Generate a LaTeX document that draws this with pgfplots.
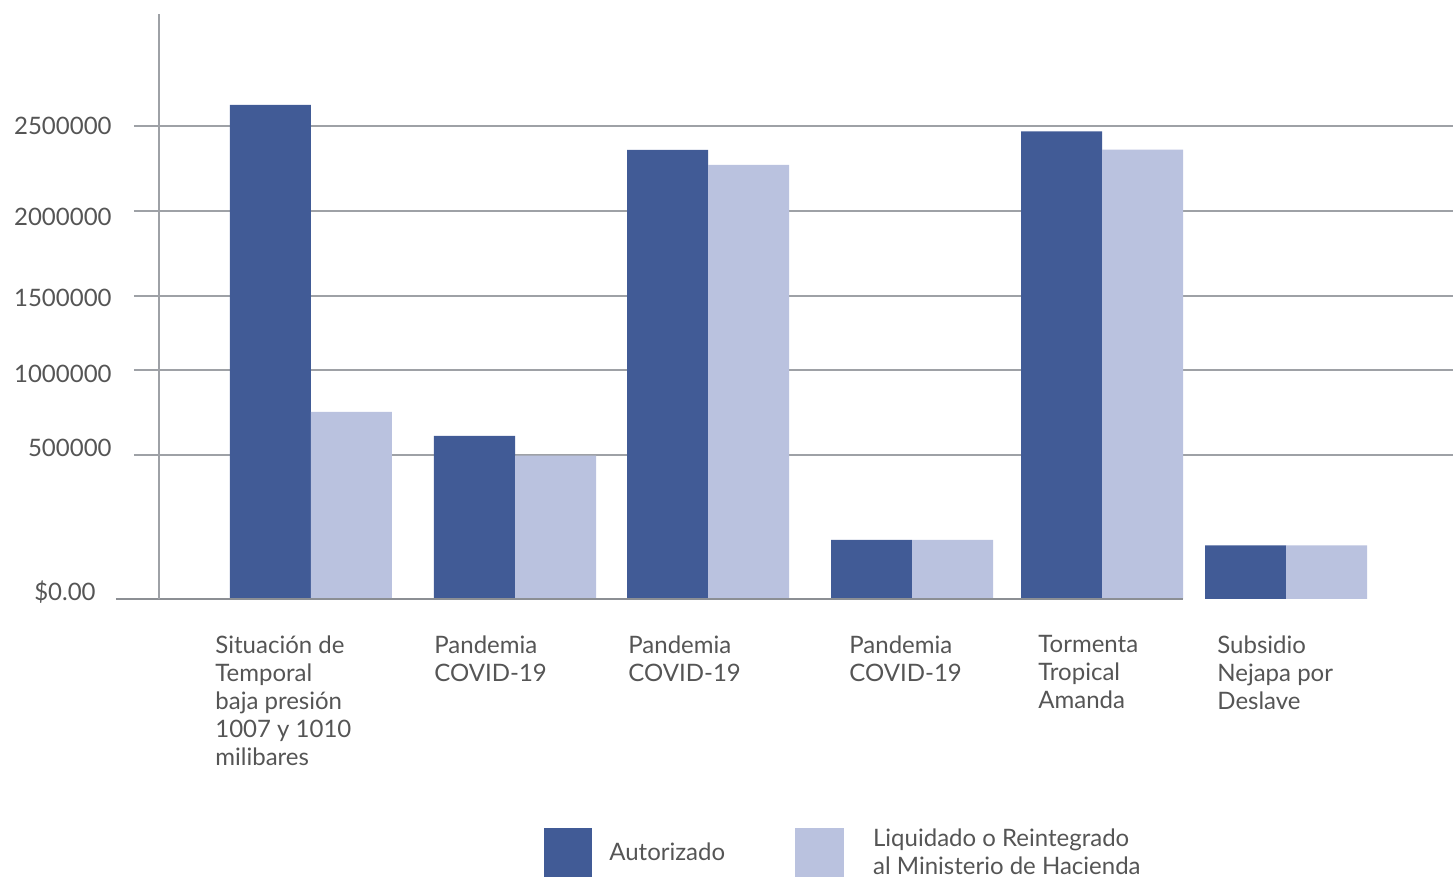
\documentclass[border=0pt]{standalone}
\usepackage{pgfplots}
\pgfplotsset{compat=1.18}
\usepackage{fontspec}
\setmainfont{Lato}

\definecolor{autor}{HTML}{415B96}
\definecolor{liquid}{HTML}{BAC2DF}
\definecolor{gridc}{HTML}{9EA1A6}
\definecolor{basec}{HTML}{8C8F94}
\definecolor{txt}{HTML}{555555}

\begin{document}
\begin{tikzpicture}
% 1 px of the reference = 0.5pt; (0,0) = left end of the gridlines on the baseline
\useasboundingbox (-67pt,-141pt) rectangle (659.5pt,299.5pt);
\begin{axis}[
    x=0.5pt, y=0.5pt,
    % the original chart uses an uneven value scale: piecewise linear mapping (values in thousands)
    y coord trafo/.code={\pgfmathparse{#1<=500 ? #1*0.288 : (#1<=1000 ? 144+(#1-500)*0.17 : (#1<=1500 ? 229+(#1-1000)*0.148 : 303+(#1-1500)*0.17))}},
    xmin=134, xmax=1453,
    ymin=0, ymax=3159,
    clip=false,
    axis line style={draw=none},
    major tick length=0pt,
    ytick={500,1000,1500,2000,2500},
    yticklabels={\raisebox{3.75pt}[\height][\depth]{500000},
                 \raisebox{-2pt}[\height][\depth]{1000000},
                 \raisebox{-1pt}[\height][\depth]{1500000},
                 \raisebox{-2.75pt}[\height][\depth]{2000000},
                 2500000},
    yticklabel style={anchor=east, inner sep=0pt, xshift=-11pt, text=txt, font=\fontsize{12}{14}\selectfont},
    extra y ticks={0},
    extra y tick labels={\raisebox{3.5pt}[\height][\depth]{\$0.00}},
    extra y tick style={grid=none, yticklabel style={xshift=-8pt}},
    ymajorgrids,
    grid style={gridc, line width=0.8pt},
    xtick={215,434,628,849,1038,1217},
    xticklabels={{Situación de\\Temporal\\baja presión\\1007 y 1010\\milibares},
                 {Pandemia\\COVID-19},
                 {Pandemia\\COVID-19},
                 {Pandemia\\COVID-19},
                 {Tormenta\\Tropical\\Amanda},
                 {Subsidio\\Nejapa por\\Deslave}},
    xticklabel style={anchor=north west, align=left, inner sep=0pt, yshift=-18pt, text=txt, font=\fontsize{12}{14}\selectfont},
    ybar, ybar=0pt, bar width=40.5pt,
    legend columns=2,
    legend cell align=left,
    legend style={at={(0.3108,-0.3915)}, anchor=north west, draw=none, fill=none,
        inner sep=0pt, font=\fontsize{12}{14}\selectfont, text=txt,
        nodes={inner sep=0pt, align=left},
        /tikz/column 1/.style={column sep=8.5pt},
        /tikz/column 2/.style={column sep=35pt},
        /tikz/column 3/.style={column sep=14.5pt}},
]
\addplot[fill=autor, draw=none,
    legend image code/.code={\fill[autor] (0pt,-12.25pt) rectangle (24pt,12.25pt);}]
    coordinates {(311,2624) (515,612) (708,2359) (912,205) (1102,2469) (1286,186)};
\addplot[fill=liquid, draw=none,
    legend image code/.code={\fill[liquid] (0pt,-12.25pt) rectangle (24.5pt,12.25pt);}]
    coordinates {(311,753) (515,498) (708,2271) (912,205) (1102,2361) (1286,186)};
\legend{Autorizado, {Liquidado o Reintegrado\\al Ministerio de Hacienda}}
\draw[basec, line width=1pt] (axis cs:116,0) -- (axis cs:1183,0);
\draw[gridc, line width=0.8pt] (rel axis cs:0.01895,0) -- (rel axis cs:0.01895,1);
\end{axis}
\end{tikzpicture}
\end{document}
